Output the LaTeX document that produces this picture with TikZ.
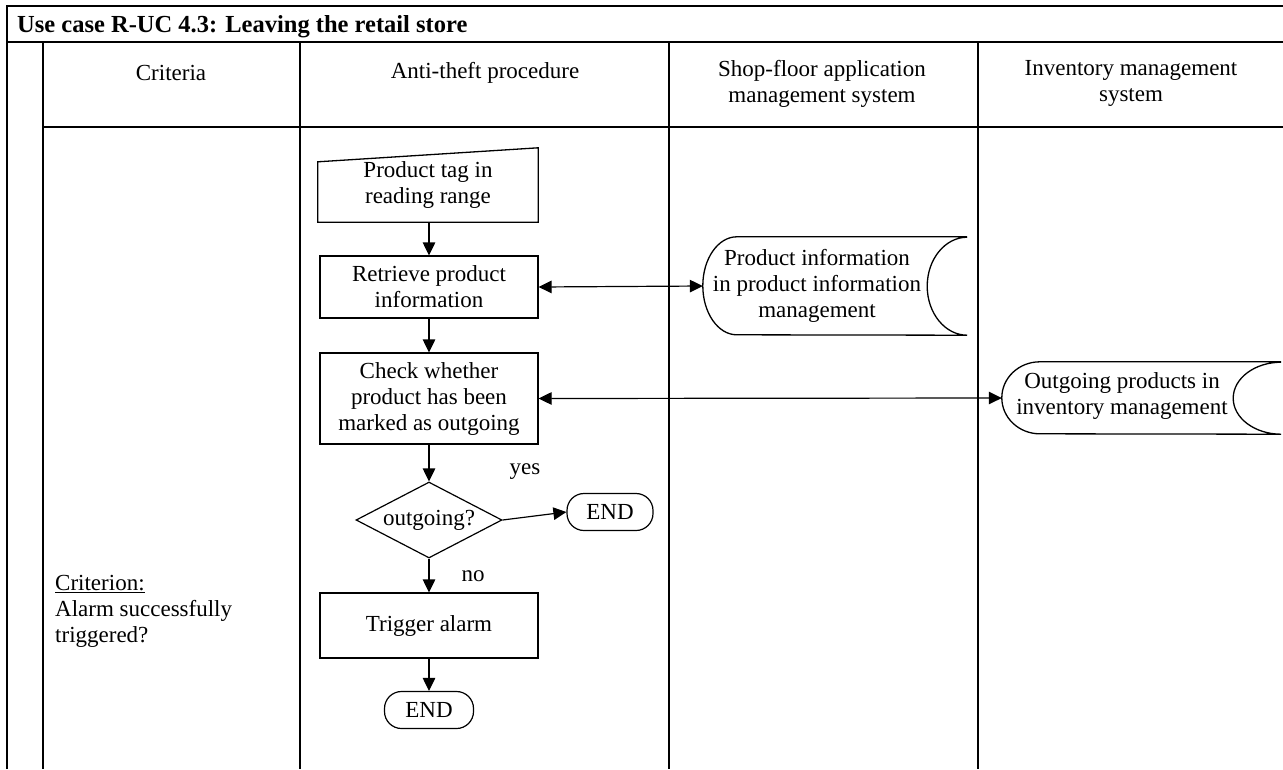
\documentclass[tikz,border=0pt]{standalone}
\usepackage{fontspec}
\setmainfont{Liberation Serif}
\usetikzlibrary{arrows.meta,shapes.geometric,calc}

\begin{document}
\begin{tikzpicture}[x=1pt,y=-1pt,
  font=\fontsize{23}{26}\selectfont,
  rule/.style={line width=1.3pt},
  flow/.style={draw, line width=1.2pt, inner sep=0pt, align=center},
  procbox/.style={flow, rectangle, minimum width=218pt, minimum height=#1},
  endbox/.style={flow, rounded corners=17pt, minimum width=#1, minimum height=37pt},
  store/.style={rectangle, inner sep=0pt, minimum width=#1},
  txt/.style={inner sep=0pt, align=center},
  link/.style={line width=1.2pt, -{Triangle[length=13pt,width=12.5pt]}},
  duplex/.style={line width=1.2pt, {Triangle[length=13pt,width=12.5pt]}-{Triangle[length=13pt,width=12.5pt]}},
]
\useasboundingbox (0,0) rectangle (1283,769);

% table frame
\draw[rule] (7,769) -- (7,6) -- (1283,6);
\draw[rule] (7,42) -- (1283,42);
\draw[rule] (43,42) -- (43,769);
\draw[rule] (43,127) -- (1283,127);
\draw[rule] (300,42) -- (300,769);
\draw[rule] (669,42) -- (669,769);
\draw[rule] (978,42) -- (978,769);

% title and column heads
\node[txt, anchor=base west] (title) at (17,32) {\fontsize{24.5}{26}\selectfont\textbf{Use case R-UC 4.3: Leaving the retail store}};
\node[txt] (hcrit) at (171,73) {Criteria};
\node[txt] (hanti) at (485,73) {Anti-theft procedure};
\node[txt] (hshop) at (822,84) {Shop-floor application\\management system};
\node[txt] (hinv) at (1131,83) {Inventory management\\system};

% criterion text
\node[txt, align=left, anchor=west] (crit) at (55,611) {\underline{Criterion:}\\Alarm successfully\\triggered?};

% flow of the anti-theft procedure
\node[txt, minimum width=220pt, minimum height=74pt] (tag) at (428,185) {Product tag in\\reading range};
\draw[rule] (tag.south west) -- (tag.south east) -- (tag.north east)
  -- ($(tag.north west)+(0,14)$) -- cycle;
\node[procbox=62pt] (ret) at (429,287) {Retrieve product\\information};
\node[procbox=91pt] (chk) at (429,398.5) {Check whether\\product has been\\marked as outgoing};
\node[flow, diamond, shape aspect=2, minimum width=146pt, minimum height=76pt] (dec) at (429,520) {outgoing?};
\node[endbox=86pt] (endyes) at (610,512) {END};
\node[procbox=65pt] (alarm) at (429,625.5) {Trigger alarm};
\node[endbox=89pt] (endno) at (429,710) {END};

\node[txt] (yes) at (525,472) {yes};
\node[txt] (no) at (473,576) {no};

\draw[link] (tag.south -| ret.north) -- (ret.north);
\draw[link] (ret) -- (chk);
\draw[link] (chk) -- (dec);
\draw[link] (dec.east) -- (endyes.west);
\draw[link] (dec) -- (alarm);
\draw[link] (alarm) -- (endno);

% stored data: product information
\node[store=264pt, minimum height=98pt] (pim) at (835,286) {};
\draw[rule] (pim.north east) -- ($(pim.north west)+(34,0)$)
  arc[start angle=90, end angle=270, x radius=34pt, y radius=49pt]
  -- (pim.south east)
  arc[start angle=270, end angle=90, x radius=40pt, y radius=49pt];
\node[txt] (pimtext) at (817,286) {Product information\\in product information\\management};

% stored data: outgoing products
\node[store=279pt, minimum height=72pt] (ogm) at (1141.5,398) {};
\draw[rule] (ogm.north east) -- ($(ogm.north west)+(38,0)$)
  arc[start angle=90, end angle=270, x radius=38pt, y radius=36pt]
  -- (ogm.south east)
  arc[start angle=270, end angle=90, x radius=48pt, y radius=36pt];
\node[txt] (ogmtext) at (1122,396) {Outgoing products in\\inventory management};

\draw[duplex] (ret.east) -- (pim.west);
\draw[duplex] (chk.east) -- (ogm.west);
\end{tikzpicture}
\end{document}
